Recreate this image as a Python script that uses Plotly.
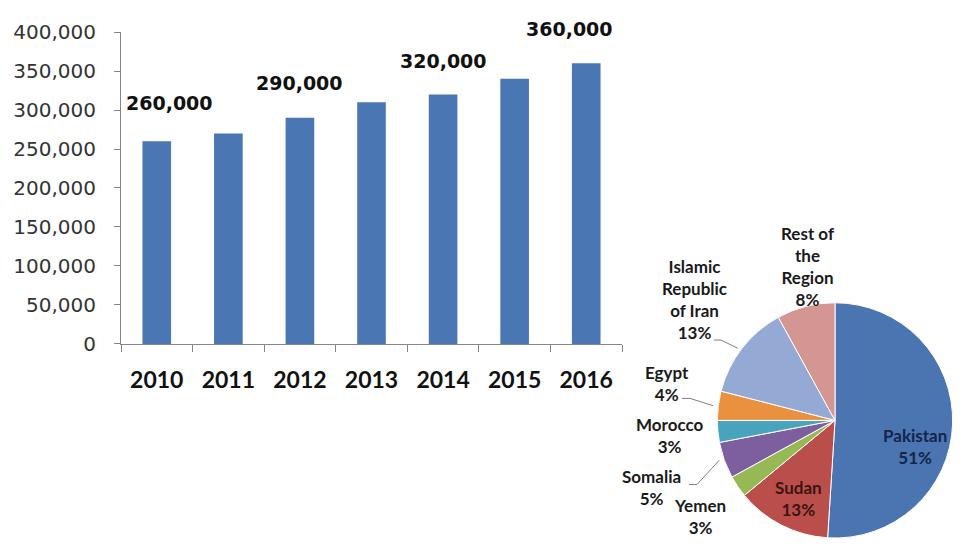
import math
import plotly.graph_objects as go

# ---- data -------------------------------------------------------------
years = ["2010", "2011", "2012", "2013", "2014", "2015", "2016"]
cases = [260000, 270000, 290000, 310000, 320000, 340000, 360000]
labelled_years = ["2010", "2012", "2014", "2016"]

regions = ["Pakistan", "Sudan", "Yemen", "Somalia", "Morocco", "Egypt",
           "Islamic Republic of Iran", "Rest of the Region"]
region_text = ["Pakistan", "Sudan", "Yemen", "Somalia", "Morocco", "Egypt",
               "Islamic<br>Republic<br>of Iran", "Rest of<br>the<br>Region"]
shares = [51, 13, 3, 5, 3, 4, 13, 8]
region_colors = ["#4B75B1", "#BA4E4B", "#97B955", "#7D5FA0",
                 "#48A4BD", "#E9913F", "#94AAD4", "#D49692"]

# ---- page geometry ----------------------------------------------------
W, H = 963, 551


def paper(x, y):
    """pixel position -> paper fraction"""
    return x / W, 1 - y / H


# bar chart plot area (pixels)
BAR_L, BAR_R, BAR_T, BAR_B = 121, 622, 21, 347
# pie centre / radius (pixels)
PIE_CX, PIE_CY, PIE_R = 835, 427, 123

fig = go.Figure()

fig.add_trace(go.Bar(
    x=years, y=cases,
    marker=dict(color="#4A76B4", line=dict(width=0)),
    showlegend=False, hoverinfo="x+y",
))

fig.add_trace(go.Pie(
    labels=regions, values=shares, sort=False,
    direction="clockwise", rotation=0,
    marker=dict(colors=region_colors, line=dict(color="white", width=1)),
    textinfo="none", showlegend=False,
    domain=dict(x=[(PIE_CX - PIE_R) / W, (PIE_CX + PIE_R) / W],
                y=[1 - (PIE_CY + PIE_R) / H, 1 - (PIE_CY - PIE_R) / H]),
))

annotations = []

# value call-outs above selected bars
callout_dx = [13, 0, 0, -17]
callout_dy = [38, 35, 33, 34]
for i, yr in enumerate(labelled_years):
    idx = years.index(yr)
    v = cases[idx]
    annotations.append(dict(
        x=idx, y=v, xref="x", yref="y", text=f"<b>{v:,}</b>",
        showarrow=False, xanchor="center", yanchor="middle",
        xshift=callout_dx[i], yshift=callout_dy[i],
        font=dict(family="DejaVu Sans", size=19, color="#111111"),
    ))

# pie labels
label_pos = {
    "Pakistan": (915, 454),
    "Sudan": (798, 509),
    "Yemen": (700, 527),
    "Somalia": (651, 497),
    "Morocco": (670, 443),
    "Egypt": (667, 388),
    "Islamic Republic of Iran": (694, 301),
    "Rest of the Region": (808, 266),
}
label_color = {"Pakistan": "#14244A", "Sudan": "#3A1512"}
for name, txt, s in zip(regions, region_text, shares):
    x, y = paper(*label_pos[name])
    annotations.append(dict(
        x=x, y=y, xref="paper", yref="paper",
        text=f"<b>{txt}<br>{s}%</b>", showarrow=False,
        xanchor="center", yanchor="middle", align="center",
        font=dict(family="Lato", size=17, color=label_color.get(name, "#1A1A1A")),
    ))

# leader lines from a label to the middle of its slice edge
total = sum(shares)
cum = []
acc = 0
for s in shares:
    cum.append((acc + s / 2) / total)
    acc += s

leaders = {
    "Islamic Republic of Iran": [(714, 343), (721, 343)],
    "Egypt": [(682, 404), (690, 404)],
    "Somalia": [(689, 494), (697, 494)],
}
shapes = []
for name, pts in leaders.items():
    frac = cum[regions.index(name)]
    th = 2 * math.pi * frac
    tip = (PIE_CX + PIE_R * math.sin(th), PIE_CY - PIE_R * math.cos(th))
    p = [paper(*pt) for pt in pts + [tip]]
    path = "M {} {} L {} {} L {} {}".format(p[0][0], p[0][1], p[1][0], p[1][1], p[2][0], p[2][1])
    shapes.append(dict(type="path", path=path, xref="paper", yref="paper",
                       line=dict(color="#7F7F7F", width=1)))

axis_grey = "#868686"
fig.update_layout(
    width=W, height=H, autosize=False,
    margin=dict(l=0, r=0, t=0, b=0),
    paper_bgcolor="white", plot_bgcolor="white",
    bargap=0.6,
    xaxis=dict(
        type="category", categoryorder="array", categoryarray=years,
        range=[-0.5, len(years) - 0.5],
        domain=[BAR_L / W, BAR_R / W], anchor="y",
        showline=True, linecolor=axis_grey, linewidth=1,
        ticks="outside", tickson="boundaries", ticklen=7, tickcolor=axis_grey,
        showgrid=False, zeroline=False, fixedrange=True, tickangle=0,
        tickfont=dict(family="Lato", size=23, color="#111111", weight="bold"),
        ticklabelstandoff=16,
    ),
    yaxis=dict(
        domain=[1 - BAR_B / H, 1 - BAR_T / H], anchor="x",
        range=[0, 400000], tickvals=[i * 50000 for i in range(9)],
        tickformat=",d",
        showline=True, linecolor=axis_grey, linewidth=1,
        ticks="outside", ticklen=6, tickcolor=axis_grey,
        showgrid=False, zeroline=False, fixedrange=True,
        tickfont=dict(family="DejaVu Sans", size=20, color="#333333"),
        ticklabelstandoff=14,
    ),
    annotations=annotations,
    shapes=shapes,
)

fig.write_html("out.html")
